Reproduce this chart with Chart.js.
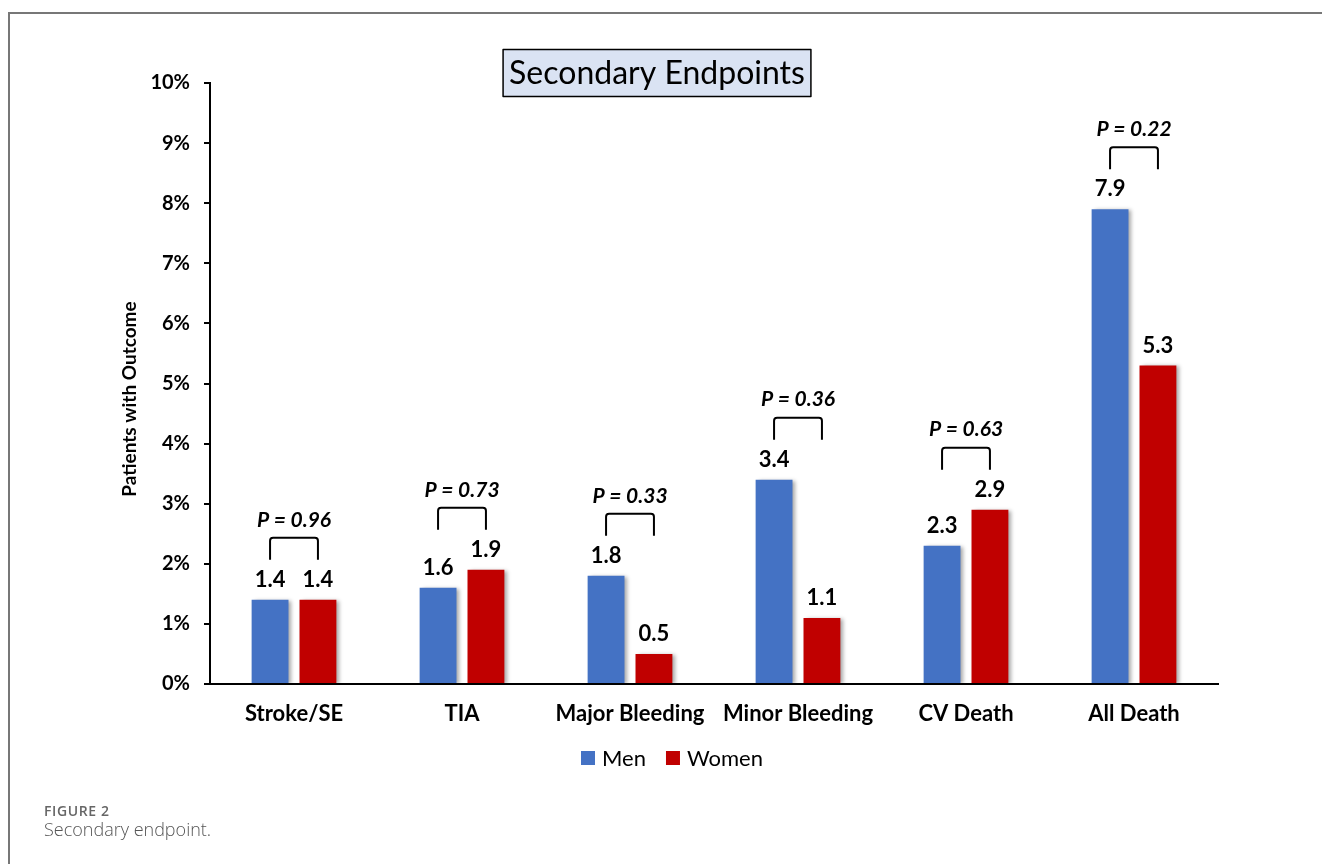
<!DOCTYPE html>
<html lang="en">
<head>
    <meta charset="UTF-8">
    <title>Secondary Endpoints</title>
    <script src="https://cdn.jsdelivr.net/npm/chart.js@4.4.8/dist/chart.umd.min.js"></script>
    <style>
        body { margin: 0; background: #fff; overflow: hidden; }
        #frame { position: absolute; left: 8px; top: 12px; width: 1330px; height: 900px;
                 border-top: 2px solid #777; border-left: 2px solid #777; }
        #wrap { position: absolute; left: 0; top: 0; width: 1322px; height: 864px; }
        .fig { position: absolute; left: 44px; font-family: "Open Sans", sans-serif; white-space: nowrap; }
        #figNum { top: 801px; font-size: 14px; font-weight: 600; letter-spacing: 0.6px; color: #666; }
        #figText { top: 817px; font-size: 18px; font-weight: 300; color: #555; }
    </style>
</head>
<body>
<div id="frame"></div>
<div id="wrap"><canvas id="endpointChart" width="1322" height="864"></canvas></div>
<div id="figNum" class="fig">FIGURE 2</div>
<div id="figText" class="fig">Secondary endpoint.</div>

<script>
    const categories = ['Stroke/SE', 'TIA', 'Major Bleeding', 'Minor Bleeding', 'CV Death', 'All Death'];
    const men = [1.4, 1.6, 1.8, 3.4, 2.3, 7.9];
    const women = [1.4, 1.9, 0.5, 1.1, 2.9, 5.3];
    const pValues = ['0.96', '0.73', '0.33', '0.36', '0.63', '0.22'];
    const chartTitle = 'Secondary Endpoints';
    const yTitle = 'Patients with Outcome';

    const fontFamily = 'Lato, "Open Sans", sans-serif';

    // bar values, p value brackets, title box, y title and legend
    const extras = {
        id: 'extras',
        beforeDatasetsDraw(chart) {
            const ctx = chart.ctx;
            ctx.save();
            ctx.shadowColor = 'rgba(0,0,0,0.35)';
            ctx.shadowBlur = 4;
            ctx.shadowOffsetX = 3;
            ctx.shadowOffsetY = 1;
        },
        afterDatasetsDraw(chart) {
            const ctx = chart.ctx;
            ctx.restore();
            ctx.save();
            const m0 = chart.getDatasetMeta(0);
            const m1 = chart.getDatasetMeta(1);

            ctx.fillStyle = '#000';
            ctx.textAlign = 'center';
            ctx.textBaseline = 'middle';
            ctx.font = 'bold 22px ' + fontFamily;
            [m0, m1].forEach((meta, d) => {
                meta.data.forEach((bar, i) => {
                    const v = chart.data.datasets[d].data[i];
                    ctx.fillText(v.toFixed(1), bar.x, bar.y - 20);
                });
            });

            ctx.strokeStyle = '#000';
            ctx.lineWidth = 2;
            ctx.lineJoin = 'round';
            categories.forEach((c, i) => {
                const b0 = m0.data[i], b1 = m1.data[i];
                const top = Math.min(b0.y, b1.y);
                const legBottom = top - 40;
                const barTop = legBottom - 22;
                ctx.beginPath();
                ctx.moveTo(b0.x, legBottom);
                ctx.lineTo(b0.x, barTop + 3);
                ctx.quadraticCurveTo(b0.x, barTop, b0.x + 3, barTop);
                ctx.lineTo(b1.x - 3, barTop);
                ctx.quadraticCurveTo(b1.x, barTop, b1.x, barTop + 3);
                ctx.lineTo(b1.x, legBottom);
                ctx.stroke();
                ctx.font = 'italic bold 21px ' + fontFamily;
                ctx.fillText('P = ' + pValues[i], (b0.x + b1.x) / 2, barTop - 18);
            });

            // title box
            ctx.font = '32px ' + fontFamily;
            const tw = ctx.measureText(chartTitle).width;
            const cx = 657, cy = 73;
            const bw = tw + 12, bh = 47;
            ctx.fillStyle = '#dae3f3';
            ctx.fillRect(cx - bw / 2, cy - bh / 2, bw, bh);
            ctx.lineWidth = 1.5;
            ctx.strokeRect(cx - bw / 2, cy - bh / 2, bw, bh);
            ctx.fillStyle = '#000';
            ctx.fillText(chartTitle, cx, cy + 1);

            // y axis title, sits a bit below the axis middle
            ctx.save();
            ctx.translate(130, 399);
            ctx.rotate(-Math.PI / 2);
            ctx.font = 'bold 19px ' + fontFamily;
            ctx.fillText(yTitle, 0, 0);
            ctx.restore();

            // legend
            ctx.font = '22px ' + fontFamily;
            ctx.textAlign = 'left';
            let x = 581;
            const ly = 758;
            chart.data.datasets.forEach(ds => {
                ctx.fillStyle = ds.backgroundColor;
                ctx.fillRect(x, ly - 7, 14, 14);
                ctx.fillStyle = '#000';
                ctx.fillText(ds.label, x + 21, ly + 1);
                x += 21 + ctx.measureText(ds.label).width + 20;
            });
            ctx.restore();
        }
    };

    const chart = new Chart(document.getElementById('endpointChart'), {
        type: 'bar',
        data: {
            labels: categories,
            datasets: [
                { label: 'Men', data: men, backgroundColor: '#4472c4' },
                { label: 'Women', data: women, backgroundColor: '#c00000' }
            ]
        },
        options: {
            responsive: false,
            animation: false,
            devicePixelRatio: 1,
            layout: { padding: { left: 120, right: 104, top: 83, bottom: 120 } },
            categoryPercentage: 0.57,
            barPercentage: 0.77,
            plugins: {
                legend: { display: false },
                tooltip: { enabled: false }
            },
            scales: {
                x: {
                    grid: { display: false, drawTicks: false },
                    border: { color: '#000', width: 2 },
                    ticks: { color: '#000', padding: 17, font: { family: fontFamily, size: 22, weight: 'bold' } },
                    afterFit(scale) { scale.height = 60; }
                },
                y: {
                    min: 0,
                    max: 10,
                    ticks: {
                        stepSize: 1,
                        color: '#000',
                        padding: 14,
                        font: { family: fontFamily, size: 20, weight: 'bold' },
                        callback: v => v + '%'
                    },
                    grid: { drawOnChartArea: false, drawTicks: true, tickLength: 6, color: '#000', lineWidth: 2 },
                    border: { color: '#000', width: 2 },
                    afterFit(scale) { scale.width = 90; }
                }
            }
        },
        plugins: [extras]
    });
</script>
</body>
</html>
